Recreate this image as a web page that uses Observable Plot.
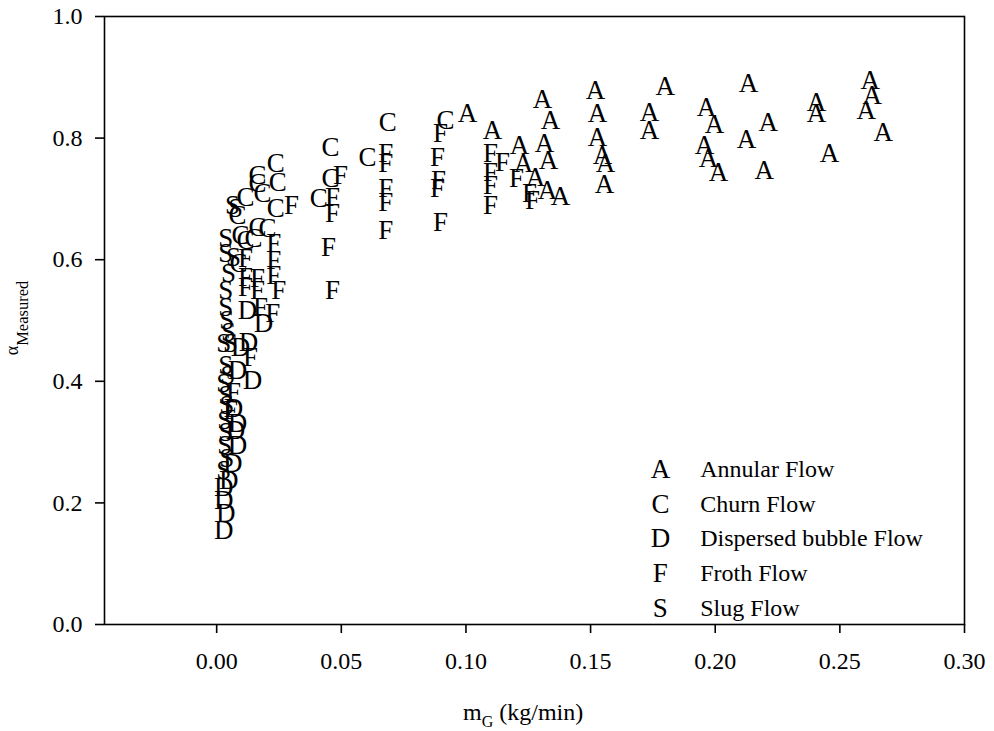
<!DOCTYPE html>
<html>
<head>
<meta charset="utf-8">
<script src="https://cdn.jsdelivr.net/npm/d3@7"></script>
<script src="https://cdn.jsdelivr.net/npm/@observablehq/plot@0.6"></script>
<style>
  html, body { margin: 0; padding: 0; background: #fff; }
  #chart { width: 994px; height: 731px; }
</style>
</head>
<body>
<div id="chart"></div>
<script>
// ---- Data ----
const annularX = [0.1006,0.1107,0.1307,0.1339,0.1215,0.1315,0.1231,0.1331,0.1279,0.1327,0.1379,0.152,0.1528,0.1528,0.1548,0.156,0.1556,0.180,0.1736,0.1736,0.1965,0.1997,0.1957,0.1973,0.2013,0.2133,0.2406,0.2406,0.2213,0.2125,0.2197,0.2458,0.2622,0.263,0.2606,0.2674];
const annularY = [0.840,0.8125,0.8635,0.829,0.788,0.791,0.758,0.764,0.735,0.714,0.704,0.878,0.840,0.801,0.771,0.758,0.724,0.885,0.842,0.8125,0.850,0.822,0.788,0.766,0.743,0.890,0.8586,0.840,0.826,0.798,0.747,0.775,0.895,0.870,0.845,0.809];

const churnX = [0.0457,0.0457,0.0409,0.0686,0.0605,0.0918,0.0237,0.0164,0.0245,0.0164,0.0116,0.0184,0.0237,0.0084,0.0164,0.0204,0.0116,0.0148,0.0088,0.0096];
const churnY = [0.785,0.734,0.701,0.826,0.768,0.829,0.758,0.738,0.727,0.725,0.702,0.709,0.684,0.673,0.653,0.651,0.632,0.635,0.594,0.640];

const dispersedX = [0.0124,0.0188,0.0096,0.0128,0.0084,0.0144,0.0084,0.0076,0.0084,0.0064,0.0048,0.0028,0.0028,0.0036,0.0028,0.0068];
const dispersedY = [0.516,0.495,0.456,0.464,0.418,0.401,0.331,0.319,0.294,0.265,0.237,0.225,0.204,0.183,0.155,0.355];

const frothX = [0.030,0.0497,0.0465,0.0465,0.0449,0.0465,0.0678,0.0678,0.0678,0.0678,0.0678,0.0898,0.0886,0.089,0.0886,0.0898,0.1099,0.1147,0.1099,0.1099,0.1099,0.1203,0.1255,0.1267,0.0229,0.0116,0.0229,0.0116,0.0164,0.0229,0.0116,0.0164,0.0249,0.0176,0.0225,0.0136,0.0068,0.0056];
const frothY = [0.690,0.738,0.702,0.676,0.620,0.549,0.775,0.758,0.717,0.694,0.648,0.808,0.768,0.730,0.717,0.661,0.775,0.760,0.743,0.722,0.689,0.734,0.709,0.697,0.627,0.602,0.599,0.571,0.569,0.574,0.554,0.549,0.549,0.521,0.512,0.439,0.382,0.352];

const slugX = [0.0064,0.0076,0.0036,0.0036,0.0068,0.0048,0.0036,0.0036,0.0040,0.0048,0.0028,0.0056,0.0036,0.0028,0.0036,0.0040,0.0032,0.0036,0.0032,0.0040,0.0028,0.0044];
const slugY = [0.689,0.684,0.635,0.610,0.604,0.577,0.549,0.521,0.500,0.480,0.462,0.462,0.426,0.396,0.377,0.360,0.336,0.316,0.294,0.273,0.253,0.410];

const regimeLetters = ["A","C","D","F","S"];
const regimeLabels = ["Annular Flow","Churn Flow","Dispersed bubble Flow","Froth Flow","Slug Flow"];

const xTicks = [0.00,0.05,0.10,0.15,0.20,0.25,0.30];
const yTicks = [0.0,0.2,0.4,0.6,0.8,1.0];

// ---- Build table ----
const series = [
  [annularX, annularY], [churnX, churnY], [dispersedX, dispersedY],
  [frothX, frothY], [slugX, slugY]
];
const points = [];
series.forEach(([xs, ys], k) => {
  xs.forEach((x, i) => points.push({x, y: ys[i], letter: regimeLetters[k]}));
});

// legend placed inside the plot (data space)
const legendX = 0.178, legendTextX = 0.194, legendTop = 0.255, legendStep = 0.057;
const legend = regimeLetters.map((l, i) => ({letter: l, label: regimeLabels[i], y: legendTop - i * legendStep}));

const serif = "'Liberation Serif', 'Times New Roman', Times, serif";

const chart = Plot.plot({
  width: 994,
  height: 731,
  marginLeft: 104,
  marginRight: 30,
  marginTop: 16,
  marginBottom: 107,
  style: {fontFamily: serif, fontSize: "24px", color: "black", background: "white", overflow: "visible"},
  x: {domain: [-0.045, 0.30]},
  y: {domain: [0, 1]},
  marks: [
    Plot.frame({stroke: "black", strokeWidth: 1.6}),
    Plot.axisX({ticks: xTicks, tickFormat: d => d.toFixed(2), tickSize: 9, tickPadding: 18, fontSize: 24, label: null, strokeWidth: 1.6}),
    Plot.axisY({ticks: yTicks, tickFormat: d => d.toFixed(1), tickSize: 9, tickPadding: 13, fontSize: 24, label: null, strokeWidth: 1.6}),
    Plot.text(points, {x: "x", y: "y", text: "letter", fontSize: 27, fontFamily: serif, fill: "black"}),
    Plot.text(legend, {x: () => legendX, y: "y", text: "letter", fontSize: 27, fontFamily: serif, fill: "black"}),
    Plot.text(legend, {x: () => legendTextX, y: "y", text: "label", textAnchor: "start", fontSize: 24, fontFamily: serif, fill: "black"})
  ]
});

const svg = d3.select(chart);
// x axis title with subscript
const xt = svg.append("text")
  .attr("x", 463).attr("y", 720)
  .attr("font-family", serif).attr("font-size", 24).attr("fill", "black")
  .attr("text-anchor", "start");
xt.append("tspan").text("m");
xt.append("tspan").attr("font-size", 16).attr("dy", 7).text("G");
xt.append("tspan").attr("dy", -7).text(" (kg/min)");

// y axis title with subscript (rotated)
const yt = svg.append("text")
  .attr("transform", "translate(18,318) rotate(-90)")
  .attr("font-family", serif).attr("font-size", 18).attr("fill", "black")
  .attr("text-anchor", "middle");
yt.append("tspan").text("α");
yt.append("tspan").attr("font-size", 16.5).attr("dy", 10).text("Measured");

document.getElementById("chart").appendChild(chart);
</script>
</body>
</html>
